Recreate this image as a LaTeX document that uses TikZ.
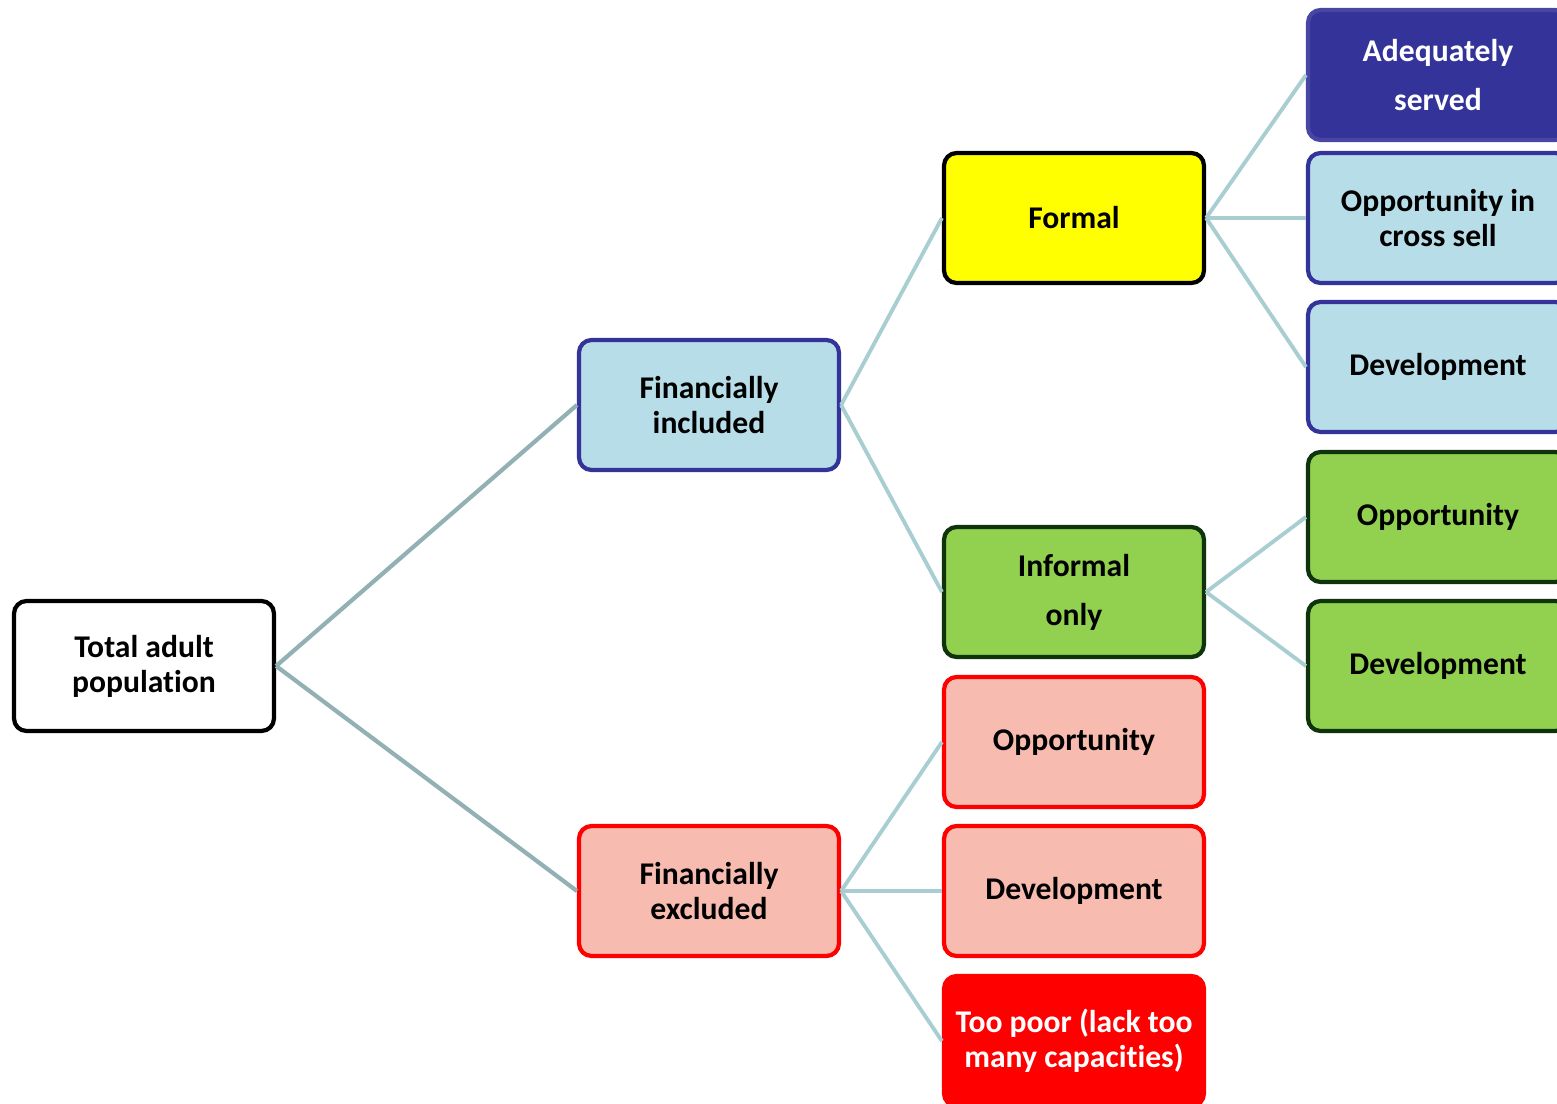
\documentclass[tikz,border=0pt]{standalone}
\usepackage{fontspec}
\setmainfont{Carlito}[Ligatures=NoCommon]
\usetikzlibrary{positioning,calc}

\definecolor{paleblue}{HTML}{B7DEE8}
\definecolor{navy}{HTML}{333399}
\definecolor{leafgreen}{HTML}{92D050}
\definecolor{darkgreen}{HTML}{0F330A}
\definecolor{salmon}{HTML}{F8BBB0}
\definecolor{brightred}{HTML}{FF0000}
\definecolor{pureyellow}{HTML}{FFFF00}
\definecolor{linkdark}{HTML}{93B1B5}
\definecolor{linklight}{HTML}{A8CED2}

\begin{document}
\begin{tikzpicture}[
    x=0.02cm, y=-0.02cm,
    box/.style={rectangle, rounded corners=0.25cm, line width=2.4pt, minimum width=5.2cm, minimum height=2.6cm, align=center, font=\fontsize{18}{20}\selectfont\bfseries},
    wide/.style={font=\fontsize{18}{28}\selectfont\bfseries},
    link/.style={line width=2.2pt, draw=linklight},
    trunk/.style={line width=2.4pt, draw=linkdark}
]

\useasboundingbox (0,0) rectangle (1557,1103);
\clip (0,0) rectangle (1557,1103);

% Root
\node[box, draw=black, fill=white] (total) at (144,666) {Total adult\\population};

% First split
\node[box, draw=navy, fill=paleblue] (incl) at (709,405) {Financially\\included};
\node[box, draw=brightred, fill=salmon] (excl) at (709,891) {Financially\\excluded};

% Included branch
\node[box, draw=black, fill=pureyellow] (formal) at (1074,218) {Formal};
\node[box, wide, draw=darkgreen, fill=leafgreen] (informal) at (1074,592) {Informal\\only};

% Excluded branch
\node[box, draw=brightred, fill=salmon] (exopp) at (1074,742) {Opportunity};
\node[box, draw=brightred, fill=salmon] (exdev) at (1074,891) {Development};
\node[box, draw=brightred, fill=brightred, text=white] (poor) at (1074,1041) {Too poor (lack too\\many capacities)};

% Formal leaves
\node[box, wide, draw=navy!90!white, fill=navy, text=white] (served) at (1438,75) {Adequately\\served};
\node[box, draw=navy, fill=paleblue] (cross) at (1438,218) {Opportunity in\\cross sell};
\node[box, draw=navy, fill=paleblue] (fodev) at (1438,367) {Development};

% Informal leaves
\node[box, draw=darkgreen, fill=leafgreen] (inopp) at (1438,517) {Opportunity};
\node[box, draw=darkgreen, fill=leafgreen] (indev) at (1438,666) {Development};

% Connectors
\draw[trunk] (total.east) -- (incl.west);
\draw[trunk] (total.east) -- (excl.west);
\draw[link] (incl.east) -- (formal.west);
\draw[link] (incl.east) -- (informal.west);
\draw[link] (excl.east) -- (exopp.west);
\draw[link] (excl.east) -- (exdev.west);
\draw[link] (excl.east) -- (poor.west);
\draw[link] (formal.east) -- (served.west);
\draw[link] (formal.east) -- (cross.west);
\draw[link] (formal.east) -- (fodev.west);
\draw[link] (informal.east) -- (inopp.west);
\draw[link] (informal.east) -- (indev.west);

\end{tikzpicture}
\end{document}
